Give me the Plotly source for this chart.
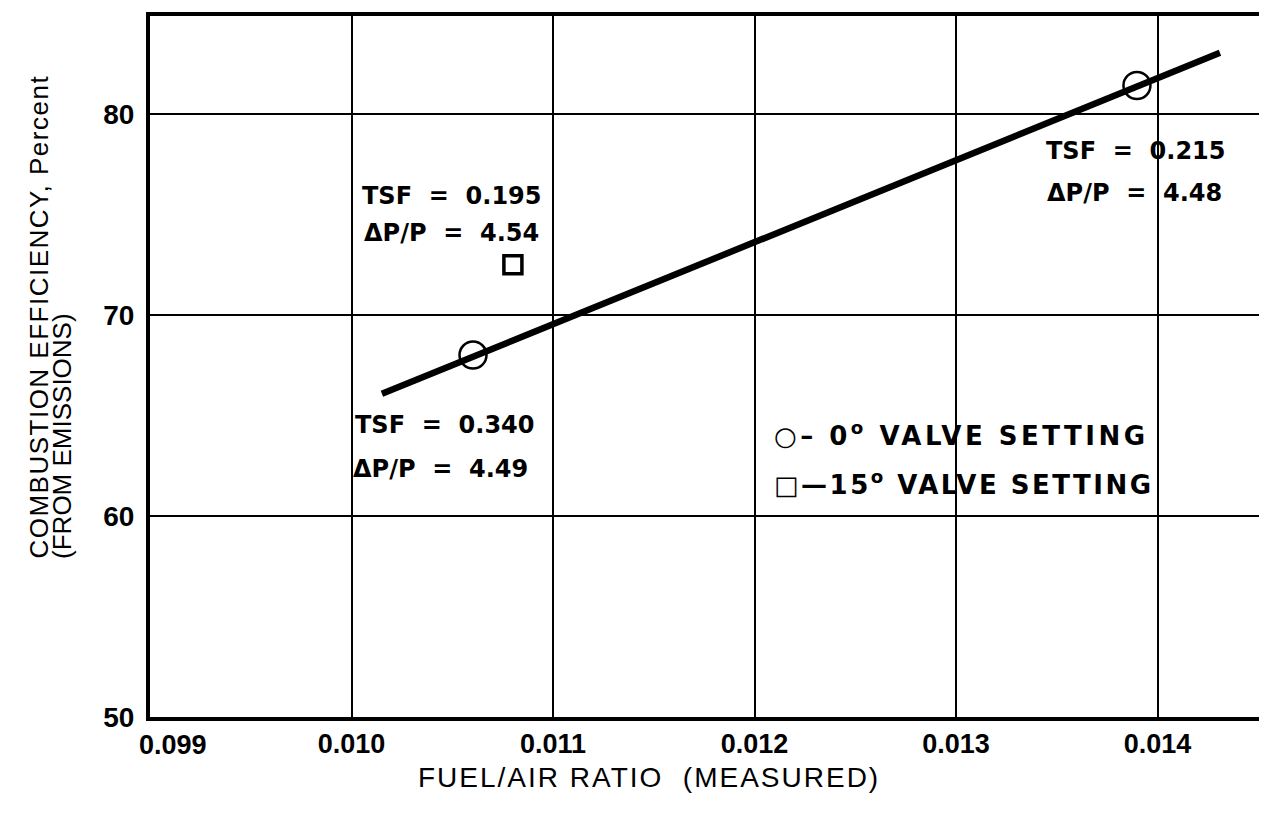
import plotly.graph_objects as go

# ---- data ----
fit_x = [0.010151, 0.01431]
fit_y = [66.09, 83.07]

circle_x = [0.010603, 0.013898]
circle_y = [68.02, 81.44]

square_x = [0.010801]
square_y = [72.52]

x_ticks = [0.009, 0.010, 0.011, 0.012, 0.013, 0.014]
x_tick_text = ["0.099", "0.010", "0.011", "0.012", "0.013", "0.014"]
y_ticks = [50, 60, 70, 80]

labels = [
    ("TSF  =  0.195", 0.010499, 75.94),
    ("ΔP/P  =  4.54", 0.010494, 74.11),
    ("TSF  =  0.340", 0.010464, 64.55),
    ("ΔP/P  =  4.49", 0.010444, 62.33),
    ("TSF  =  0.215", 0.013893, 78.17),
    ("ΔP/P  =  4.48", 0.013888, 76.09),
]

legend_texts = [
    "○– 0<sup>o</sup> VALVE SETTING",
    "□—15<sup>o</sup> VALVE SETTING",
]
legend_spacing = [3.5, 2.5]

x_title = "FUEL/AIR RATIO  (MEASURED)"
y_title_lines = ["COMBUSTION EFFICIENCY, Percent", "(FROM EMISSIONS)"]

ANN_FONT = "DejaVu Sans"
HELV = "Liberation Sans, Arial, sans-serif"


def spaced(text, px):
    return f'<span style="letter-spacing:{px}px">{text}</span>'


fig = go.Figure()
fig.add_trace(go.Scatter(x=fit_x, y=fit_y, mode="lines",
                         line=dict(color="black", width=6.5), showlegend=False))
fig.add_trace(go.Scatter(x=circle_x, y=circle_y, mode="markers", showlegend=False,
                         marker=dict(symbol="circle-open", size=27, color="black",
                                     line=dict(width=2.5, color="black"))))
fig.add_trace(go.Scatter(x=square_x, y=square_y, mode="markers", showlegend=False,
                         marker=dict(symbol="square-open", size=18, color="black",
                                     line=dict(width=3.5, color="black"))))

for txt, x, y in labels:
    fig.add_annotation(x=x, y=y, text=txt, showarrow=False,
                       font=dict(family=ANN_FONT, size=24, color="black", weight="bold"),
                       xanchor="center", yanchor="middle")

legend_y = [0.4043, 0.3333]
for txt, ly, sp in zip(legend_texts, legend_y, legend_spacing):
    fig.add_annotation(xref="paper", yref="paper", x=0.5594, y=ly, text=spaced(txt, sp),
                       showarrow=False, xanchor="left", yanchor="middle",
                       font=dict(family=ANN_FONT, size=26, color="black", weight="bold"))

fig.add_annotation(xref="paper", yref="paper", x=0.4487, y=-0.0865,
                   text=spaced(x_title, 2), showarrow=False,
                   font=dict(family=HELV, size=28, color="black"),
                   xanchor="center", yanchor="middle")
fig.add_annotation(xref="paper", yref="paper", x=-0.1001, y=0.2227,
                   text=spaced(y_title_lines[0], 1.5),
                   showarrow=False, textangle=-90,
                   font=dict(family=HELV, size=26, color="black"),
                   xanchor="center", yanchor="bottom")
fig.add_annotation(xref="paper", yref="paper", x=-0.0791, y=0.2227,
                   text=y_title_lines[1],
                   showarrow=False, textangle=-90,
                   font=dict(family=HELV, size=26, color="black"),
                   xanchor="center", yanchor="bottom")

# first x tick label sits a little to the right of the frame in the original
fig.add_annotation(xref="paper", yref="paper", x=0.0207, y=-0.0397,
                   text=x_tick_text[0], showarrow=False,
                   font=dict(family=HELV, size=27, color="black", weight="bold"),
                   xanchor="center", yanchor="middle")

fig.update_xaxes(range=[0.009, 0.0145186], tickvals=x_ticks[1:], ticktext=x_tick_text[1:],
                 showgrid=True, gridcolor="black", gridwidth=2,
                 showline=True, linecolor="black", linewidth=4, mirror=True,
                 ticks="", zeroline=False,
                 tickfont=dict(family=HELV, size=27, color="black", weight="bold"))
fig.update_yaxes(range=[50, 84.9], tickvals=y_ticks,
                 showgrid=True, gridcolor="black", gridwidth=2,
                 showline=True, linecolor="black", linewidth=4, mirror=True,
                 ticks="", zeroline=False, ticklabelstandoff=6,
                 tickfont=dict(family=HELV, size=28, color="black", weight="bold"))

fig.update_layout(
    width=1267, height=817,
    margin=dict(l=142, r=13, t=4, b=108),
    plot_bgcolor="white", paper_bgcolor="white",
    showlegend=False,
)

fig.write_html("out.html")
